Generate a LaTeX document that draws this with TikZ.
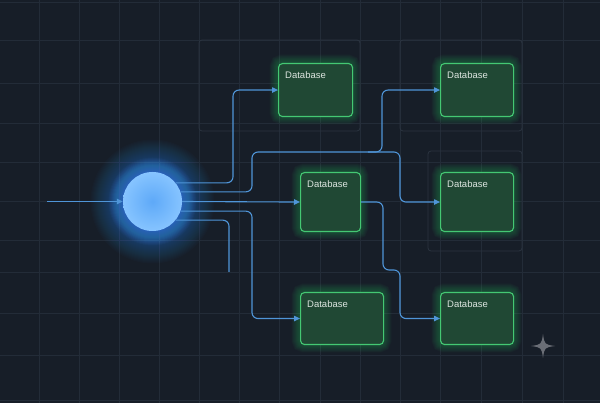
\documentclass[tikz,border=0pt]{standalone}
\usepackage{fontspec}
\setmainfont{Liberation Sans}
\usetikzlibrary{arrows.meta,calc}
\definecolor{bgc}{HTML}{171E28}
\definecolor{gridc}{HTML}{232C38}
\definecolor{grpc}{HTML}{2B3440}
\definecolor{boxfill}{HTML}{204834}
\definecolor{boxline}{HTML}{44C873}
\definecolor{glowc}{HTML}{2FAF5C}
\definecolor{txtc}{HTML}{DDE5E0}
\definecolor{connc}{HTML}{4F95D8}
\definecolor{orbin}{HTML}{5EA9F8}
\definecolor{orbout}{HTML}{86C4FF}
\definecolor{orbglow}{HTML}{3F93F5}
\definecolor{sparkc}{HTML}{6A6E76}
\tikzset{
  gridline/.style={draw=gridc, line width=0.7pt},
  grouprect/.style={draw=grpc, line width=0.8pt, rounded corners=3pt},
  dbbox/.style={draw=boxline, fill=boxfill, line width=1.1pt, rounded corners=4pt, inner sep=0pt, anchor=north west},
  dblabel/.style={text=txtc, font=\fontsize{9.5}{11}\selectfont, inner sep=0pt, anchor=base west},
  conn/.style={draw=connc, line width=1.1pt, rounded corners=6pt, -{Triangle[length=6pt,width=5.5pt]}},
  connplain/.style={draw=connc, line width=1.1pt, rounded corners=6pt},
}
\begin{document}
\begin{tikzpicture}[x=1pt,y=-1pt]
\fill[bgc] (0,0) rectangle (600,403);
\useasboundingbox (0,0) rectangle (600,403);
% grid
\foreach \x in {39,79,119,159,199,239,279,320,360,400,440,481,522,563}
  \draw[gridline] (\x,0) -- (\x,403);
\foreach \y in {2,40,83,123,162,201,240,272,313,355,400}
  \draw[gridline] (0,\y) -- (600,\y);
% group rectangles
\draw[grouprect] (199,40) rectangle (360,131);
\draw[grouprect] (400,40) rectangle (522,131);
\draw[grouprect] (428,151) rectangle (522,251);
% orb glow
\foreach \r in {29,30,...,44}
  \fill[orbglow, opacity=0.055] (152.5,201.5) circle (\r);
\foreach \r in {29,30,...,62}
  \fill[orbglow, opacity=0.018] (152.5,201.5) circle (\r);
% database boxes with glow
\foreach \n/\x/\y/\w/\h in {b1/278/63/74/53, b2/440/63/73/53, b3/300/172/60/59, b4/440/172/73/59, b5/300/292/83/52, b6/440/292/73/52} {
  \foreach \k in {1,...,10}
    \draw[glowc, line width=\k*1.7pt, opacity=0.045, rounded corners=4pt] (\x,\y) rectangle ++(\w,\h);
  \node[dbbox, minimum width=\w pt, minimum height=\h pt] (\n) at (\x,\y) {};
  \node[dblabel] (l\n) at ($(\n.north west)+(7,16)$) {Database};
}
% orb
\node[circle, minimum size=59pt, inner sep=0pt, inner color=orbin, outer color=orbout, shading=radial] (c) at (152.5,201.5) {};
% connectors
\coordinate (in) at (47,201.5);
\draw[conn] (in) -- (c.west);
\draw[conn] (c.39) -| ([xshift=-45pt]b1.west) -- (b1.west);
\draw[conn] (c.19) -| (252,152) -| ([xshift=-40pt]b4.west) -- (b4.west);
\coordinate (j) at (368,152);
\draw[conn] (j) -| ([xshift=-58pt]b2.west) -- (b2.west);
\draw[conn] (c.east) -- (b3.west);
\draw[conn] (c.-19) -| ([xshift=-48pt]b5.west) -- (b5.west);
\coordinate (e6) at (229,272);
\draw[connplain] (c.-39) -| (e6);
\draw[conn] (b3.east) -| (383,270) -| ([xshift=-40pt]b6.west) -- (b6.west);
% sparkle
\fill[sparkc] (543,334) .. controls (544.5,344.5) .. (555,346) .. controls (544.5,347.5) .. (543,358) .. controls (541.5,347.5) .. (531,346) .. controls (541.5,344.5) .. (543,334) -- cycle;
\end{tikzpicture}
\end{document}
